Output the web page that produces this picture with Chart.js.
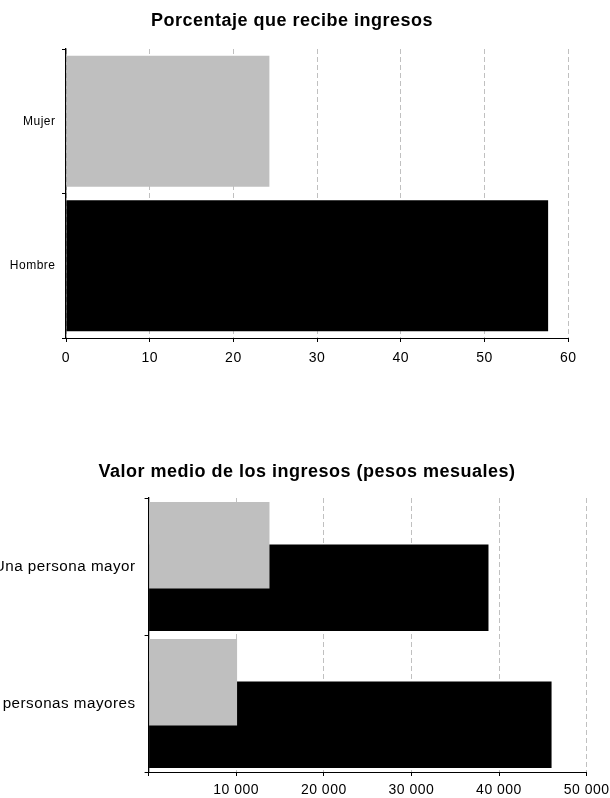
<!DOCTYPE html>
<html lang="es">
<head>
<meta charset="utf-8">
<title>Ingresos de las personas mayores</title>
<script src="https://cdn.jsdelivr.net/npm/chart.js@4"></script>
<style>
  html, body { margin: 0; padding: 0; background: #fff; overflow: hidden; }
  body { position: relative; width: 610px; height: 798px; }
  canvas { position: absolute; }
  #pctChart { left: 0; top: 0; }
  #montoChart { left: -30px; top: 440px; }
</style>
</head>
<body>
<canvas id="pctChart" width="584" height="380"></canvas>
<canvas id="montoChart" width="674" height="358"></canvas>
<script>
// Datos
const sexos = ["Mujer", "Hombre"];
const pctRecibeIngresos = [24.3, 57.6];
const pctTicks = [0, 10, 20, 30, 40, 50, 60];
const pctEtiquetas = ["0", "10", "20", "30", "40", "50", "60"];

const hogares = ["Una persona mayor", "Dos personas mayores"];
const montoMujer = [13800, 10100];
const montoHombre = [38800, 46000];
const montoTicks = [0, 10000, 20000, 30000, 40000, 50000];
const montoEtiquetas = ["", "10 000", "20 000", "30 000", "40 000", "50 000"];

const GRIS = "#bfbfbf";
const NEGRO = "#000000";

Chart.defaults.font.family = "'Liberation Sans', Arial, sans-serif";
Chart.defaults.color = "#000";
Chart.defaults.animation = false;

// el original tiene las letras un poco separadas
const espaciado = {
    id: "espaciado",
    beforeDraw(chart) { chart.ctx.letterSpacing = "0.5px"; }
};

// eje de valores (horizontal) con líneas discontinuas
function ejeX(ticks, etiquetas, alto, padding) {
    return {
        min: ticks[0],
        max: ticks[ticks.length - 1],
        afterBuildTicks: s => { s.ticks = ticks.map(v => ({ value: v })); },
        afterFit: s => { s.height = alto; },
        grid: {
            color: "#c0c0c0",
            lineWidth: 1,
            tickLength: 4,
            tickColor: NEGRO,
            tickWidth: 1,
            tickBorderDash: []
        },
        border: { color: NEGRO, width: 1, dash: [5, 3] },
        ticks: {
            font: { size: 14 },
            color: "#000",
            padding: padding,
            maxRotation: 0,
            autoSkip: false,
            callback: (v, i) => etiquetas[i]
        }
    };
}

// eje de categorías (vertical)
function ejeY(ancho, tamano, padding) {
    return {
        afterFit: s => { s.width = ancho; },
        grid: {
            offset: true,
            drawOnChartArea: false,
            tickLength: 4,
            tickColor: NEGRO,
            color: NEGRO
        },
        border: { color: NEGRO, width: 1.3 },
        ticks: { font: { size: tamano }, color: "#000", padding: padding }
    };
}

// eje vacío a la derecha: deja margen sin mover el centro del título
function margenDerecho(ancho) {
    return {
        type: "category",
        position: "right",
        afterFit: s => { s.width = ancho; },
        grid: { display: false },
        border: { display: false },
        ticks: { display: false }
    };
}

function titulo(texto, arriba, abajo) {
    return {
        display: true,
        text: texto,
        color: "#000",
        font: { size: 18, weight: "bold" },
        padding: { top: arriba, bottom: abajo }
    };
}

// Porcentaje que recibe ingresos
new Chart(document.getElementById("pctChart"), {
    type: "bar",
    data: {
        labels: sexos,
        datasets: [{
            label: "Porcentaje",
            data: pctRecibeIngresos,
            backgroundColor: [GRIS, NEGRO],
            borderWidth: 0,
            barPercentage: 0.907,
            categoryPercentage: 1
        }]
    },
    options: {
        indexAxis: "y",
        responsive: false,
        plugins: {
            legend: { display: false },
            tooltip: { enabled: false },
            title: titulo("Porcentaje que recibe ingresos", 10.2, 17.2)
        },
        scales: {
            x: ejeX(pctTicks, pctEtiquetas, 42, 8),
            y: ejeY(66, 12, 6.5),
            derecha: margenDerecho(15.5)
        }
    },
    plugins: [espaciado]
});

// Valor medio de los ingresos
new Chart(document.getElementById("montoChart"), {
    type: "bar",
    data: {
        labels: hogares,
        datasets: [{
            label: "Mujer",
            data: montoMujer,
            backgroundColor: GRIS,
            borderWidth: 0
        }, {
            label: "Hombre",
            data: montoHombre,
            backgroundColor: NEGRO,
            borderWidth: 0
        }]
    },
    options: {
        indexAxis: "y",
        responsive: false,
        categoryPercentage: 0.62,
        barPercentage: 2.035,
        plugins: {
            legend: { display: false },
            tooltip: { enabled: false },
            title: titulo("Valor medio de los ingresos (pesos mesuales)", 21.7, 14.7)
        },
        scales: {
            x: ejeX(montoTicks, montoEtiquetas, 26, 5.6),
            y: ejeY(178.6, 15.2, 9),
            derecha: margenDerecho(57.4)
        }
    },
    plugins: [espaciado]
});
</script>
</body>
</html>
